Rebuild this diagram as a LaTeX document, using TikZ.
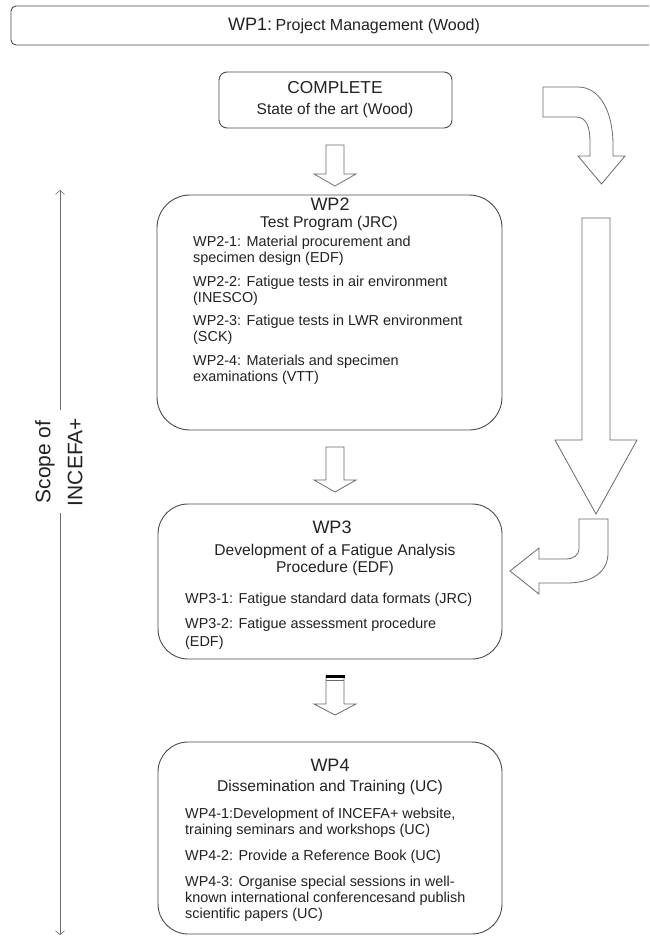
\documentclass[tikz,border=0pt]{standalone}
\usepackage{fontspec}
\setmainfont{Liberation Sans}
\usetikzlibrary{arrows.meta}
\definecolor{boxc}{HTML}{4A4A4A}
\definecolor{arrc}{HTML}{6A6A6A}
\definecolor{txtc}{HTML}{222222}
\newcommand\itemf{\fontsize{14.4}{16}\selectfont}
\newcommand\headf{\fontsize{15.6}{17}\selectfont}
\newcommand\wpf{\fontsize{18}{20}\selectfont}
\begin{document}
\begin{tikzpicture}[x=1pt,y=-1pt,
  box/.style={draw=boxc, line width=0.9pt, fill=white, inner sep=0pt},
  bigarrow/.style={draw=arrc, line width=0.8pt, fill=white, line join=miter},
  scopearr/.style={draw=arrc, line width=0.6pt, -{Straight Barb[length=4pt,width=9pt]}},
  txt/.style={text=txtc, inner sep=0pt},
  itemtxt/.style={txt, font=\itemf, align=left, anchor=west},
  headtxt/.style={txt, font=\headf, align=center},
  wptxt/.style={txt, font=\wpf}]
\useasboundingbox (0,0) rectangle (649,936);
\clip (0,0) rectangle (649,936);
\fill[white] (0,0) rectangle (649,936);

% WP1 bar
\node[box, rounded corners=5, minimum width=709, minimum height=39] (wp1) at (365.5,25.5) {};
\node[txt] (wp1t) at (354,26) {{\fontsize{18}{20}\selectfont WP1:} {\fontsize{16}{18}\selectfont Project Management (Wood)}};

% COMPLETE box
\node[box, rounded corners=8, minimum width=233, minimum height=56] (sota) at (335.5,100) {};
\node[txt, font=\fontsize{17.3}{19}\selectfont] (sota1) at (335,88) {COMPLETE};
\node[txt, font=\fontsize{15.5}{17}\selectfont] (sota2) at (335,110) {State of the art (Wood)};

% WP2 box
\node[box, rounded corners=33, minimum width=345, minimum height=235] (wp2) at (329.5,312.5) {};
\node[wptxt] (wp2a) at (330,204) {WP2};
\node[headtxt] (wp2b) at (329,223) {Test Program (JRC)};
\node[itemtxt] (wp21) at (193,251) {WP2-1: Material procurement and\\specimen design (EDF)};
\node[itemtxt] (wp22) at (193,290.5) {WP2-2: Fatigue tests in air environment\\(INESCO)};
\node[itemtxt] (wp23) at (193,330) {WP2-3: Fatigue tests in LWR environment\\(SCK)};
\node[itemtxt] (wp24) at (193,369.5) {WP2-4: Materials and specimen\\examinations (VTT)};

% WP3 box
\node[box, rounded corners=30, minimum width=344, minimum height=155] (wp3) at (330,581.5) {};
\node[wptxt] (wp3a) at (332,527) {WP3};
\node[headtxt] (wp3b) at (335,559.5) {Development of a Fatigue Analysis\\Procedure (EDF)};
\node[itemtxt] (wp31) at (185,600) {WP3-1: Fatigue standard data formats (JRC)};
\node[itemtxt, font=\fontsize{14.4}{18}\selectfont] (wp32) at (185,634) {WP3-2: Fatigue assessment procedure\\(EDF)};

% WP4 box
\node[box, rounded corners=30, minimum width=344, minimum height=192] (wp4) at (330,838) {};
\node[wptxt] (wp4a) at (330,765) {WP4};
\node[headtxt] (wp4b) at (330,787) {Dissemination and Training (UC)};
\node[itemtxt] (wp41) at (185,823) {WP4-1:Development of INCEFA+ website,\\training seminars and workshops (UC)};
\node[itemtxt] (wp42) at (185,857) {WP4-2: Provide a Reference Book (UC)};
\node[itemtxt] (wp43) at (185,899) {WP4-3: Organise special sessions in well-\\known international conferencesand publish\\scientific papers (UC)};

% down block arrows between boxes
\draw[bigarrow] (326,145) -- (344,145) -- (344,174) -- (356,174) -- (335,186) -- (314,174) -- (326,174) -- cycle;
\draw[bigarrow] (326,447) -- (344,447) -- (344,480) -- (356,480) -- (335,492) -- (314,480) -- (326,480) -- cycle;
\draw[bigarrow] (326,676) -- (344,676) -- (344,704) -- (356,704) -- (335,715) -- (314,704) -- (326,704) -- cycle;
\draw[black, line width=2.2pt] (325.5,676.5) -- (344.5,676.5);
\draw[arrc, line width=0.6pt] (326,680.5) -- (344,680.5);

% curved arrow at top right
\draw[bigarrow] (543,87) -- (578,87) .. controls (600,87) and (613,112) .. (613,145)
  -- (613,156) -- (625,156) -- (601.5,184) -- (578,156) -- (590,156) -- (590,142)
  .. controls (590,126) and (586,117) .. (576,117) -- (543,117) -- cycle;

% long straight arrow
\draw[bigarrow] (582,218) -- (610,218) -- (610,440) -- (637,440) -- (596,514) -- (555,440) -- (582,440) -- cycle;

% hook arrow pointing left to WP3
\draw[bigarrow] (579,519) -- (608,519) -- (608,553) .. controls (608,572) and (592,583) .. (567,583)
  -- (539,583) -- (539,594) -- (510,571) -- (539,548) -- (539,559) -- (565,559)
  .. controls (573,559) and (579,556) .. (579,548) -- cycle;

% scope of INCEFA+
\node[txt, rotate=90, align=center, font=\fontsize{21}{32}\selectfont] (scope) at (59,462) {Scope of\\INCEFA+};
\coordinate (s1) at (60,410);
\coordinate (s2) at (60,513);
\coordinate (stop) at (60,190);
\coordinate (sbot) at (60,935);
\draw[scopearr] (s1) -- (stop);
\draw[scopearr] (s2) -- (sbot);
\end{tikzpicture}
\end{document}
